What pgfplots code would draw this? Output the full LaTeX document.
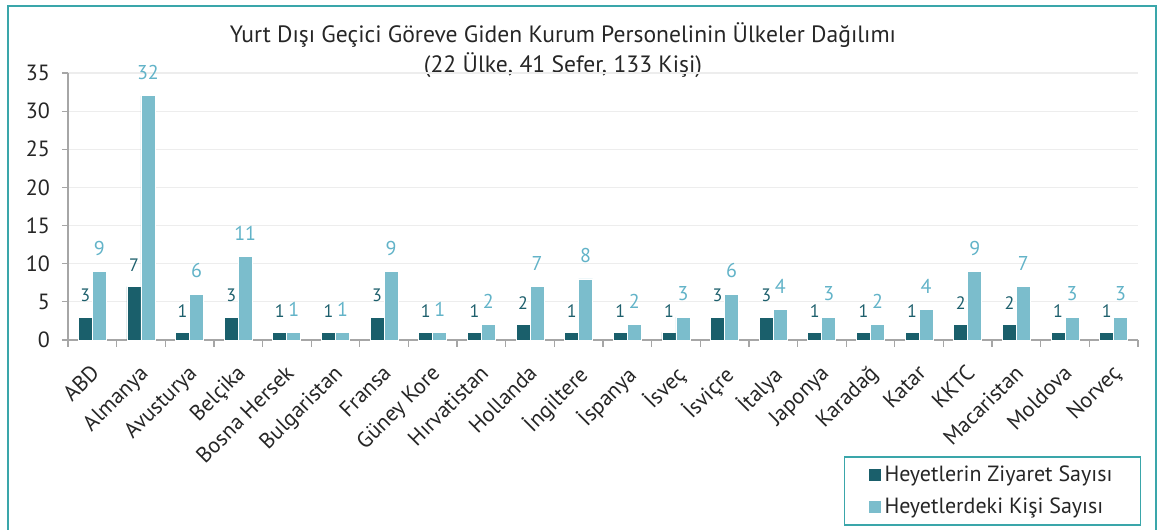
\documentclass[border=0pt]{standalone}
\usepackage{fontspec}
\setmainfont{PT Sans}
\usepackage{pgfplots}
\pgfplotsset{compat=1.18}
\definecolor{darkbar}{HTML}{1A5F6B}
\definecolor{lightbar}{HTML}{7BBDCC}
\definecolor{darklab}{HTML}{1D5F6C}
\definecolor{lightlab}{HTML}{62B3C8}
\definecolor{framec}{HTML}{3AA6AA}
\definecolor{axisgrey}{HTML}{A6A6A6}
\definecolor{gridgrey}{HTML}{EDEDED}
\definecolor{txt}{HTML}{262626}
\begin{document}
\begin{tikzpicture}
\useasboundingbox (0,0) rectangle (579pt,265pt);
\draw[framec, line width=1pt] (4pt,-10pt) rectangle (578pt,262pt);
\node[font=\fontsize{11.8}{13}\selectfont, text=txt] at (281.5pt,247.5pt) {Yurt Dışı Geçici Göreve Giden Kurum Personelinin Ülkeler Dağılımı};
\node[font=\fontsize{11.8}{13}\selectfont, text=txt] at (281.5pt,232.5pt) {(22 Ülke, 41 Sefer, 133 Kişi)};
\begin{axis}[
 at={(34pt,95pt)}, anchor=south west, scale only axis,
 width=535pt, height=133.5pt,
 xmin=-0.5, xmax=21.5, ymin=0, ymax=35,
 clip=false,
 ybar=0pt, bar width=7pt,
 axis lines=left,
 axis line style={-, draw=axisgrey, line width=0.6pt},
 tick align=outside,
 xtick={0,...,21},
 xticklabels={ABD, Almanya, Avusturya, Belçika, Bosna Hersek, Bulgaristan, Fransa, Güney Kore, Hırvatistan, Hollanda, İngiltere, İspanya, İsveç, İsviçre, İtalya, Japonya, Karadağ, Katar, KKTC, Macaristan, Moldova, Norveç},
 major x tick style={draw=none},
 minor xtick={-0.5,0.5,...,21.5},
 minor x tick style={draw=axisgrey, line width=0.6pt},
 minor tick length=3.5pt,
 ytick={0,5,...,35},
 y tick style={draw=axisgrey, line width=0.6pt},
 major tick length=3pt,
 ymajorgrids,
 grid style={draw=gridgrey, line width=0.6pt},
 /pgf/number format/assume math mode=true,
 ticklabel style={font=\fontsize{11}{12}\selectfont, text=txt},
 yticklabel style={xshift=-2.5pt},
 x tick label style={rotate=45, anchor=north east, inner sep=1pt, xshift=-6pt, yshift=-4pt},
 nodes near coords,
 legend style={at={(0.864,-0.5655)}, anchor=center, draw=framec, line width=0.8pt,
   font=\fontsize{11}{12}\selectfont, text=txt, row sep=2.5pt, inner xsep=12pt, inner ysep=2.5pt},
 legend cell align=left,
 legend image code/.code={\path[#1, draw=none] (0pt,-3pt) rectangle (6pt,3pt);},
]
\addplot[fill=darkbar, draw=white, line width=0.4pt,
  nodes near coords style={font=\fontsize{9}{10}\selectfont, text=darklab, yshift=4pt}]
 coordinates {(0,3)(1,7)(2,1)(3,3)(4,1)(5,1)(6,3)(7,1)(8,1)(9,2)(10,1)(11,1)(12,1)(13,3)(14,3)(15,1)(16,1)(17,1)(18,2)(19,2)(20,1)(21,1)};
\addlegendentry{Heyetlerin Ziyaret Sayısı}
\addplot[fill=lightbar, draw=white, line width=0.4pt,
  nodes near coords style={font=\fontsize{10}{11}\selectfont, text=lightlab, yshift=4.5pt}]
 coordinates {(0,9)(1,32)(2,6)(3,11)(4,1)(5,1)(6,9)(7,1)(8,2)(9,7)(10,8)(11,2)(12,3)(13,6)(14,4)(15,3)(16,2)(17,4)(18,9)(19,7)(20,3)(21,3)};
\addlegendentry{Heyetlerdeki Kişi Sayısı}
\end{axis}
\end{tikzpicture}
\end{document}
